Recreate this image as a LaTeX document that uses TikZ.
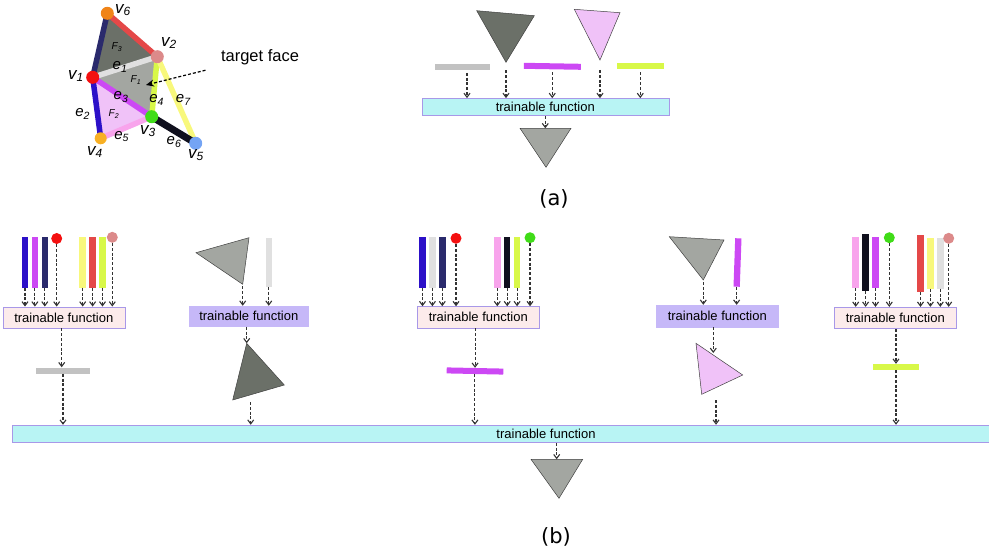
\documentclass[tikz,border=0pt]{standalone}
\usepackage{fontspec}
\setmainfont{Liberation Sans}
\newfontfamily\capfont{DejaVu Sans}
\usetikzlibrary{positioning,arrows.meta}

\definecolor{darkface}{HTML}{6B7068}
\definecolor{midface}{HTML}{A3A6A1}
\definecolor{pinkface}{HTML}{F0C2F8}
\definecolor{grayedge}{HTML}{E0E0E0}
\definecolor{grayout}{HTML}{C2C2C2}
\definecolor{blueedge}{HTML}{2C10C8}
\definecolor{magedge}{HTML}{CC48F4}
\definecolor{limeedge}{HTML}{D8F848}
\definecolor{rosedge}{HTML}{F8A4EC}
\definecolor{blackedge}{HTML}{10101E}
\definecolor{yellowedge}{HTML}{F8F87C}
\definecolor{rededge}{HTML}{E44848}
\definecolor{navyedge}{HTML}{2A2A6C}
\definecolor{vorange}{HTML}{F08418}
\definecolor{vrose}{HTML}{DC8A8A}
\definecolor{vred}{HTML}{F41010}
\definecolor{vgreen}{HTML}{40DC18}
\definecolor{vyellow}{HTML}{F8B024}
\definecolor{vblue}{HTML}{74A4F4}
\definecolor{cyanbox}{HTML}{B8F4F4}
\definecolor{pinkbox}{HTML}{FCEBEB}
\definecolor{lilacbox}{HTML}{C6B8F8}
\definecolor{boxline}{HTML}{A898E8}

\begin{document}
\begin{tikzpicture}[x=1pt,y=-1pt]
		% Define styles
		\tikzstyle{vbar} = [rectangle, inner sep=0pt, minimum width=6.5pt, minimum height=50pt]
		\tikzstyle{hbar} = [rectangle, inner sep=0pt, minimum height=6pt]
		\tikzstyle{vdot} = [circle, inner sep=0pt, minimum size=11pt]
		\tikzstyle{fnbox} = [rectangle, draw=boxline, fill=pinkbox, inner sep=0pt, 
		minimum width=122pt, minimum height=21.5pt, font=\fontsize{13}{14}\selectfont]
		\tikzstyle{lilac} = [fnbox, draw=lilacbox, fill=lilacbox] % purple boxes
		\tikzstyle{wide} = [fnbox, fill=cyanbox] % cyan boxes
		\tikzstyle{tri} = [draw=black!75, line width=0.5pt]
		\tikzstyle{arrow} = [dash pattern=on 3pt off 1.8pt, line width=1.1pt, draw=black!80, 
		-{Straight Barb[length=4pt,width=6pt]}]
		\tikzstyle{meshedge} = [line width=5.5pt]
		\tikzstyle{vlabel} = [inner sep=0pt, font=\fontsize{17}{17}\selectfont\itshape]
		\tikzstyle{elabel} = [inner sep=0pt, font=\fontsize{15}{15}\selectfont\itshape]
		\tikzstyle{flabel} = [inner sep=0pt, font=\fontsize{10}{10}\selectfont\itshape]
		\tikzstyle{caption} = [font=\capfont\fontsize{21}{21}\selectfont]
		
		% Global settings
		\tikzstyle{bar distance}=[node distance=3pt]
		\useasboundingbox (0,0) rectangle (989,559);
		
		% Mesh with the target face
		\coordinate (m1) at (92.7,77.3);
		\coordinate (m2) at (157.3,56.7);
		\coordinate (m3) at (151.7,116.7);
		\coordinate (m4) at (100.7,138.3);
		\coordinate (m5) at (195.7,143.3);
		\coordinate (m6) at (107.3,13.3);
		\fill [darkface] (m6) -- (m2) -- (m1) -- cycle;
		\fill [midface] (m1) -- (m2) -- (m3) -- cycle;
		\fill [pinkface] (m1) -- (m3) -- (m4) -- cycle;
		\draw [meshedge, rededge] (m6) -- (m2);
		\draw [meshedge, navyedge] (m6) -- (m1);
		\draw [meshedge, grayedge] (m1) -- (m2);
		\draw [meshedge, blueedge] (m1) -- (m4);
		\draw [meshedge, magedge] (m1) -- (m3);
		\draw [meshedge, limeedge] (m2) -- (m3);
		\draw [meshedge, rosedge] (m4) -- (m3);
		\draw [meshedge, yellowedge] (m2) -- (m5);
		\draw [meshedge, blackedge, line width=7pt] (m3) -- (m5);
		\node [vdot, fill=vred, minimum size=13pt] (v1) at (m1) {};
		\node [vdot, fill=vrose, minimum size=13pt] (v2) at (m2) {};
		\node [vdot, fill=vgreen, minimum size=13pt] (v3) at (m3) {};
		\node [vdot, fill=vyellow, minimum size=12pt] (v4) at (m4) {};
		\node [vdot, fill=vblue, minimum size=13pt] (v5) at (m5) {};
		\node [vdot, fill=vorange, minimum size=13pt] (v6) at (m6) {};
		\node [vlabel] (lv1) at (76,76) {v\textsubscript{1}};
		\node [vlabel] (lv2) at (169,43) {v\textsubscript{2}};
		\node [vlabel] (lv3) at (148,131) {v\textsubscript{3}};
		\node [vlabel] (lv4) at (95,152) {v\textsubscript{4}};
		\node [vlabel] (lv5) at (196,155) {v\textsubscript{5}};
		\node [vlabel] (lv6) at (123,10) {v\textsubscript{6}};
		\node [elabel] (le1) at (120,67) {e\textsubscript{1}};
		\node [elabel] (le2) at (82.7,114) {e\textsubscript{2}};
		\node [elabel] (le3) at (121,97) {e\textsubscript{3}};
		\node [elabel] (le4) at (156.7,100) {e\textsubscript{4}};
		\node [elabel] (le5) at (121.7,136.7) {e\textsubscript{5}};
		\node [elabel] (le6) at (174,142) {e\textsubscript{6}};
		\node [elabel] (le7) at (183.3,100) {e\textsubscript{7}};
		\node [flabel] (lf1) at (136,80) {F\textsubscript{1}};
		\node [flabel] (lf2) at (114,114) {F\textsubscript{2}};
		\node [flabel] (lf3) at (117,47) {F\textsubscript{3}};
		\node [font=\fontsize{16.5}{16.5}\selectfont] (tf) at (260,57) {target face};
		\coordinate (tgt) at (146,85);
		\draw [densely dashed, line width=1.2pt, -{Stealth[length=8pt,width=7pt]}] 
		([xshift=-12pt,yshift=-2pt]tf.south west) -- (tgt);
		
		% (a): one step on the target face
		\fill [darkface, tri] (476.7,10.7) -- (534.3,15.7) -- (506,62.3) coordinate (tda) -- cycle;
		\fill [pinkface, tri] (574.3,9.3) -- (620,12.7) -- (600,60) coordinate (tpa) -- cycle;
		\node [hbar, fill=grayout, minimum width=55pt] (ga) at (462.5,66.7) {};
		\node [hbar, fill=magedge, minimum width=57pt, rotate=-1] (ma) at (552.3,66.3) {};
		\node [hbar, fill=limeedge, minimum width=47pt] (la) at (640.3,66.2) {};
		\node [wide, minimum width=247pt, minimum height=17.4pt] (fa) at (545.3,107) {trainable function};
		\fill [midface, tri] (520,128.3) coordinate (toa) -- (571,128.3) -- (546,167.3) -- cycle;
		\coordinate (ta) at (545.3,128.3);
		\node [caption] (capa) at (554,199) {(a)};
		
		\draw [arrow] ([xshift=4.5pt,yshift=-3pt]ga.south) -- ([xshift=4.5pt]ga.south |- fa.north);
		\draw [arrow] ([yshift=-8pt]tda) -- (tda |- fa.north);
		\draw [arrow] ([yshift=-3pt]ma.south) -- (ma.south |- fa.north);
		\draw [arrow] ([yshift=-10pt]tpa) -- (tpa |- fa.north);
		\draw [arrow] ([yshift=-3pt]la.south) -- (la.south |- fa.north);
		\draw [arrow] (fa.south -| ta) -- (ta);
		
		% (b) group 1: edge e1
		\node [vbar, fill=blueedge] (a1) at (25,262.5) {};
		\node [vbar, fill=magedge, bar distance, right=of a1] (a2) {};
		\node [vbar, fill=navyedge, bar distance, right=of a2] (a3) {};
		\node [vdot, fill=vred] (a4) at (56.7,238.5) {};
		\node [vbar, fill=yellowedge] (a5) at (82.7,262.5) {};
		\node [vbar, fill=rededge, bar distance, right=of a5] (a6) {};
		\node [vbar, fill=limeedge, bar distance, right=of a6] (a7) {};
		\node [vdot, fill=vrose] (a8) at (112.3,237.3) {};
		\node [fnbox] (f1) at (63.8,317.5) {trainable function};
		\node [hbar, fill=grayout, minimum width=54pt] (g1) at (63,370.5) {};
		
		% (b) group 2: face F1
		\fill [midface, tri] (196,252.7) -- (249,237.7) -- (242.7,284.3) coordinate (t2in) -- cycle;
		\node [vbar, fill=grayedge, minimum width=5.7pt, minimum height=49pt] (b1) at (268.8,262.2) {};
		\node [lilac, minimum width=119pt, minimum height=20.7pt] (f2) at (248.8,316.3) {trainable function};
		\fill [darkface, tri] (246.7,343.3) coordinate (t2top) -- (284.3,385) -- (232.7,400) -- cycle;
		\coordinate (t2out) at (250.7,402);
		
		% (b) group 3: edge e3
		\node [vbar, fill=blueedge] (c1) at (422.5,262.5) {};
		\node [vbar, fill=grayedge, bar distance, right=of c1] (c2) {};
		\node [vbar, fill=navyedge, bar distance, right=of c2] (c3) {};
		\node [vdot, fill=vred] (c4) at (456,238.3) {};
		\node [vbar, fill=rosedge] (c5) at (497.3,262.5) {};
		\node [vbar, fill=blackedge, bar distance, right=of c5] (c6) {};
		\node [vbar, fill=limeedge, bar distance, right=of c6] (c7) {};
		\node [vdot, fill=vgreen] (c8) at (530,237.7) {};
		\node [fnbox] (f3) at (478.3,317.2) {trainable function};
		\node [hbar, fill=magedge, minimum width=56.6pt, rotate=-1.2] (g3) at (475,371) {};
		
		% (b) group 4: face F2
		\fill [midface, tri] (669.3,236.7) -- (724,240) -- (703.3,280) coordinate (t4in) -- cycle;
		\node [vbar, fill=magedge, minimum width=6.3pt, minimum height=48.4pt, rotate=-2] (d1) at (737.5,262.5) {};
		\node [lilac, minimum width=122.7pt, minimum height=22pt] (f4) at (717.3,316) {trainable function};
		\fill [pinkface, tri] (696,343.3) -- (742.7,375) -- (701.7,394.3) -- cycle;
		\coordinate (t4top) at (713.3,353);
		\coordinate (t4out) at (716,400);
		
		% (b) group 5: edge e4
		\node [vbar, fill=rosedge] (e1) at (855.7,262.5) {};
		\node [vbar, fill=blackedge, minimum height=57pt, bar distance, right=of e1] (e2) {};
		\node [vbar, fill=magedge, bar distance, right=of e2] (e3) {};
		\node [vdot, fill=vgreen] (e4) at (889.3,237.7) {};
		\node [vbar, fill=rededge, minimum height=57pt] (e5) at (920.5,263.5) {};
		\node [vbar, fill=yellowedge, bar distance, right=of e5] (e6) {};
		\node [vbar, fill=grayedge, bar distance, right=of e6] (e7) {};
		\node [vdot, fill=vrose] (e8) at (948.7,238.3) {};
		\node [fnbox] (f5) at (895.3,317.8) {trainable function};
		\node [hbar, fill=limeedge, minimum width=46.6pt] (g5) at (896,367) {};
		
		% (b) final function and output
		\node [wide, minimum width=1068pt, minimum height=17.7pt] (big) at (546,433.8) {trainable function};
		\fill [midface, tri] (531,459.3) -- (582.7,459.3) -- (559,498.3) -- cycle;
		\coordinate (tb) at (556.7,459.3);
		\node [caption] (capb) at (556,537) {(b)};
		
		% Draw arrows
		\draw [arrow] (a1.south) -- (a1.south |- f1.north);
		\draw [arrow] (a2.south) -- (a2.south |- f1.north);
		\draw [arrow] (a3.south) -- (a3.south |- f1.north);
		\draw [arrow] (a4.south) -- (a4.south |- f1.north);
		\draw [arrow] (a5.south) -- (a5.south |- f1.north);
		\draw [arrow] (a6.south) -- (a6.south |- f1.north);
		\draw [arrow] (a7.south) -- (a7.south |- f1.north);
		\draw [arrow] (a8.south) -- (a8.south |- f1.north);
		\draw [arrow] ([xshift=-1.3pt]g1.north |- f1.south) -- ([xshift=-1.3pt]g1.north);
		\draw [arrow] (g1.south) -- (g1.south |- big.north);
		
		\draw [arrow] ([yshift=-2pt]t2in) -- (t2in |- f2.north);
		\draw [arrow] (b1.south) -- (b1.south |- f2.north);
		\draw [arrow] (f2.south -| t2top) -- (t2top);
		\draw [arrow] (t2out) -- (t2out |- big.north);
		
		\draw [arrow] (c1.south) -- (c1.south |- f3.north);
		\draw [arrow] (c2.south) -- (c2.south |- f3.north);
		\draw [arrow] (c3.south) -- (c3.south |- f3.north);
		\draw [arrow] (c4.south) -- (c4.south |- f3.north);
		\draw [arrow] (c5.south) -- (c5.south |- f3.north);
		\draw [arrow] (c6.south) -- (c6.south |- f3.north);
		\draw [arrow] (c7.south) -- (c7.south |- f3.north);
		\draw [arrow] (c8.south) -- (c8.south |- f3.north);
		\draw [arrow] (g3.north |- f3.south) -- (g3.north);
		\draw [arrow] (g3.south) -- (g3.south |- big.north);
		
		\draw [arrow] ([yshift=-2pt]t4in) -- (t4in |- f4.north);
		\draw [arrow] (d1.south) -- (d1.south |- f4.north);
		\draw [arrow] (f4.south -| t4top) -- (t4top);
		\draw [arrow] (t4out) -- (t4out |- big.north);
		
		\draw [arrow] (e1.south) -- (e1.south |- f5.north);
		\draw [arrow] (e2.south) -- (e2.south |- f5.north);
		\draw [arrow] (e3.south) -- (e3.south |- f5.north);
		\draw [arrow] (e4.south) -- (e4.south |- f5.north);
		\draw [arrow] (e5.south) -- (e5.south |- f5.north);
		\draw [arrow] (e6.south) -- (e6.south |- f5.north);
		\draw [arrow] (e7.south) -- (e7.south |- f5.north);
		\draw [arrow] (e8.south) -- (e8.south |- f5.north);
		\draw [arrow] (g5.north |- f5.south) -- (g5.north);
		\draw [arrow] (g5.south) -- (g5.south |- big.north);
		
		\draw [arrow] (big.south -| tb) -- (tb);
	\end{tikzpicture}
\end{document}
